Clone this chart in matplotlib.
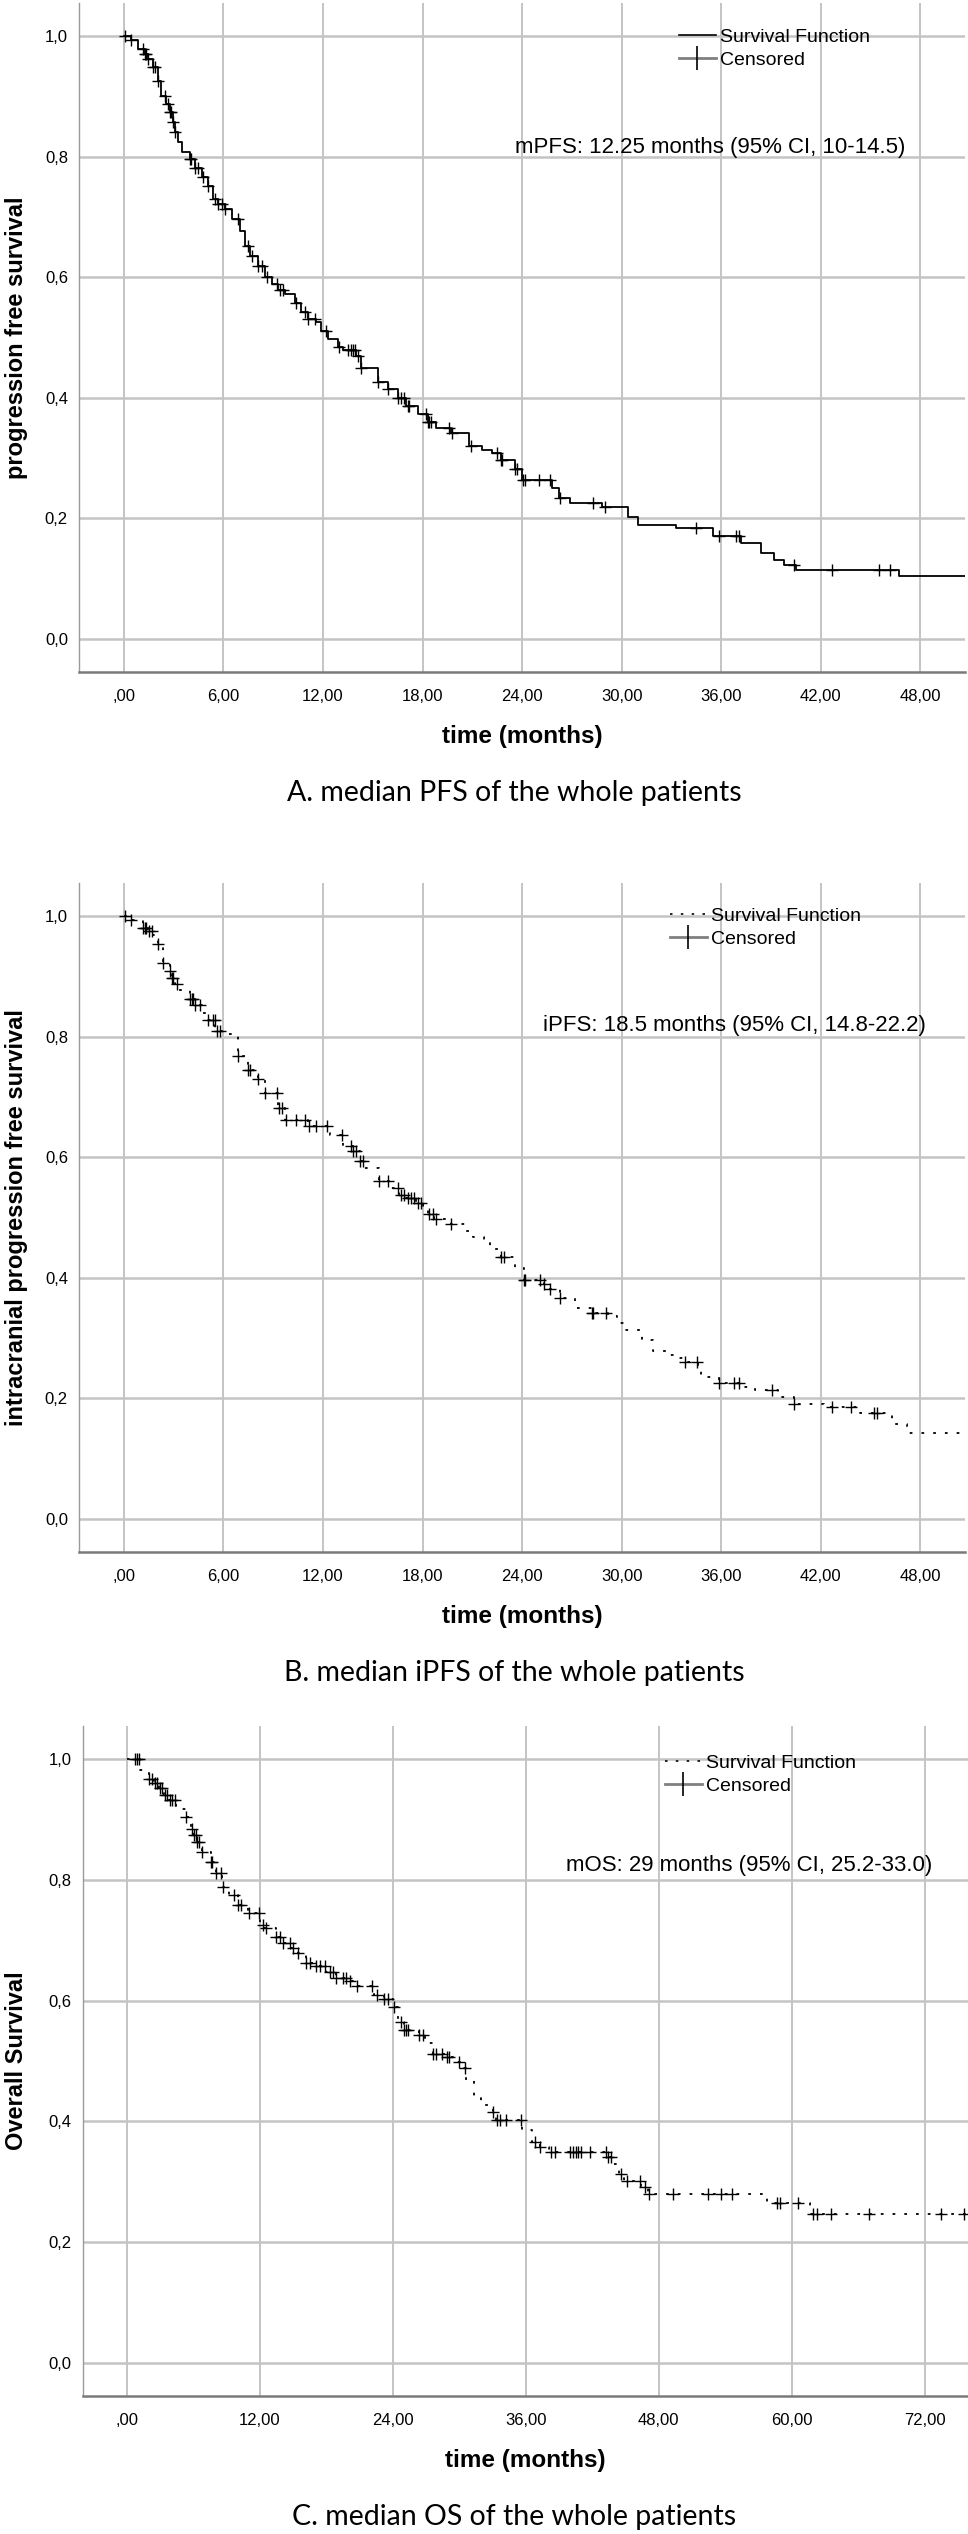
import numpy as np
import matplotlib
matplotlib.use("Agg")
import matplotlib.pyplot as plt
from matplotlib.lines import Line2D
from matplotlib.ticker import FuncFormatter

# ---- panel A : PFS (step drops: time in months, survival after the drop)
pfs_t = [0, 0.44, 0.85, 1.25, 1.45, 1.75, 2.06, 2.26, 2.56, 2.76, 2.96, 3.06, 3.27, 3.47,
         3.97, 4.27, 4.68, 5.08, 5.38, 5.69, 6.09, 6.49, 6.99, 7.30, 7.6, 8.1, 8.5, 8.9,
         9.3, 9.7, 10.3, 10.7, 11.1, 11.6, 11.9, 12.3, 12.9, 13.2, 14.0, 14.3, 15.3, 15.9,
         16.5, 17.0, 17.7, 18.3, 18.8, 19.7, 20.8, 21.6, 22.2, 22.7, 23.6, 24.0, 25.8,
         26.2, 26.9, 28.8, 30.4, 31.0, 33.3, 35.5, 37.2, 38.4, 39.2, 39.8, 40.5, 46.7, 51.0]
pfs_s = [1.0, 0.993, 0.979, 0.971, 0.962, 0.949, 0.926, 0.90, 0.888, 0.874, 0.857, 0.841,
         0.824, 0.807, 0.796, 0.782, 0.766, 0.752, 0.73, 0.722, 0.713, 0.697, 0.677, 0.652,
         0.636, 0.619, 0.60, 0.589, 0.578, 0.572, 0.558, 0.542, 0.531, 0.525, 0.511, 0.498,
         0.484, 0.479, 0.47, 0.45, 0.426, 0.414, 0.40, 0.387, 0.373, 0.359, 0.35, 0.341,
         0.32, 0.314, 0.309, 0.297, 0.281, 0.264, 0.25, 0.233, 0.225, 0.218, 0.203, 0.189,
         0.184, 0.170, 0.159, 0.142, 0.131, 0.122, 0.115, 0.104, 0.104]
pfs_cens = [0.04, 0.44, 1.15, 1.25, 1.35, 1.45, 1.75, 1.85, 2.06, 2.46, 2.66, 2.76, 2.86,
            2.96, 3.06, 3.97, 4.07, 4.27, 4.48, 4.78, 5.08, 5.48, 5.69, 5.89, 6.09, 6.9,
            7.5, 7.7, 8.1, 8.3, 8.6, 9.21, 9.4, 9.6, 10.4, 10.9, 11.1, 11.5, 12.2, 12.95,
            13.5, 13.7, 13.8, 13.9, 14.1, 14.3, 15.3, 15.9, 16.5, 16.7, 16.9, 17.1, 17.2,
            18.2, 18.3, 18.4, 18.5, 19.6, 19.75, 20.9, 22.5, 22.7, 22.8, 23.6, 23.7, 24.05,
            24.2, 25.0, 25.7, 26.3, 28.3, 29.0, 34.5, 35.9, 36.9, 37.05, 40.4, 42.7, 45.5,
            46.2]

# ---- panel B : intracranial PFS
ipfs_t = [0, 0.44, 1.15, 1.45, 1.76, 2.06, 2.36, 2.77, 2.87, 3.07, 3.27, 3.98, 4.28, 4.69,
          5.09, 5.5, 5.9, 6.9, 7.5, 8.1, 8.5, 9.3, 9.7, 11.1, 12.4, 13.2, 13.8, 14.2, 14.5,
          15.4, 16.0, 16.6, 17.0, 17.6, 18.0, 18.3, 18.7, 19.7, 20.55, 21.05, 21.7, 22.05,
          22.7, 23.55, 24.1, 25.3, 25.55, 26.3, 27.2, 28.2, 29.2, 29.7, 30.2, 31.2, 31.9,
          32.7, 33.3, 33.8, 34.6, 34.8, 35.9, 37.4, 38.05, 39.4, 40.4, 42.2, 44.4, 46.3,
          47.2, 51.0]
ipfs_s = [1.0, 0.993, 0.981, 0.975, 0.968, 0.954, 0.923, 0.909, 0.898, 0.887, 0.878, 0.862,
          0.853, 0.84, 0.828, 0.81, 0.804, 0.768, 0.745, 0.729, 0.707, 0.682, 0.662, 0.651,
          0.637, 0.618, 0.61, 0.593, 0.582, 0.56, 0.549, 0.538, 0.532, 0.524, 0.519, 0.506,
          0.497, 0.489, 0.478, 0.467, 0.458, 0.447, 0.435, 0.417, 0.397, 0.39, 0.381, 0.367,
          0.35, 0.342, 0.336, 0.325, 0.314, 0.297, 0.278, 0.272, 0.267, 0.26, 0.25, 0.236,
          0.225, 0.219, 0.213, 0.203, 0.191, 0.185, 0.176, 0.158, 0.143, 0.143]
ipfs_cens = [0.04, 0.44, 1.15, 1.25, 1.35, 1.49, 1.7, 2.06, 2.36, 2.77, 2.87, 2.97, 3.17,
             3.98, 4.08, 4.18, 4.28, 4.59, 5.09, 5.39, 5.49, 5.6, 5.8, 6.9, 7.5, 7.6, 8.1,
             8.5, 9.23, 9.33, 9.54, 9.74, 10.4, 10.9, 11.15, 11.55, 12.26, 13.17, 13.7,
             13.8, 14.0, 14.2, 14.4, 15.4, 15.9, 16.5, 16.7, 16.9, 17.1, 17.3, 17.5, 17.7,
             17.9, 18.4, 18.6, 18.8, 19.7, 22.7, 22.9, 24.1, 24.2, 25.05, 25.3, 25.7, 26.3,
             28.2, 28.3, 29.05, 33.8, 34.55, 35.9, 36.8, 37.05, 39.05, 40.4, 42.7, 43.8,
             45.2, 45.4]

# ---- panel C : OS
os_t = [0, 1.2, 1.97, 2.42, 2.88, 3.33, 3.8, 4.4, 5.3, 5.76, 6.06, 6.36, 6.8, 7.58, 8.03,
        8.6, 9.24, 10.0, 10.9, 12.0, 12.4, 13.5, 14.1, 14.85, 15.45, 16.2, 17.1, 18.0, 18.9,
        19.85, 20.75, 22.3, 23.2, 24.0, 24.5, 25.0, 26.4, 26.9, 27.6, 28.9, 29.4, 30.1,
        30.6, 31.3, 32.0, 33.0, 33.35, 35.7, 36.6, 37.3, 38.1, 43.4, 43.9, 44.4, 44.9,
        46.4, 47.0, 57.8, 61.6, 76.5]
os_s = [1.0, 0.982, 0.968, 0.96, 0.952, 0.94, 0.932, 0.918, 0.905, 0.885, 0.874, 0.863,
        0.847, 0.83, 0.811, 0.789, 0.775, 0.759, 0.745, 0.726, 0.72, 0.706, 0.695, 0.687,
        0.679, 0.662, 0.657, 0.648, 0.637, 0.632, 0.624, 0.61, 0.602, 0.59, 0.565, 0.551,
        0.543, 0.529, 0.512, 0.507, 0.499, 0.488, 0.468, 0.438, 0.427, 0.416, 0.402, 0.385,
        0.366, 0.357, 0.349, 0.341, 0.33, 0.313, 0.302, 0.291, 0.28, 0.265, 0.247, 0.247]
os_cens = [0.76, 0.91, 1.06, 1.97, 2.27, 2.58, 2.73, 3.03, 3.18, 3.48, 3.64, 3.94, 4.09,
           4.39, 5.3, 5.9, 6.06, 6.21, 6.36, 6.52, 6.82, 7.58, 7.73, 8.03, 8.48, 8.64, 9.7,
           10.0, 10.3, 11.06, 11.97, 12.27, 12.58, 13.5, 13.8, 14.1, 14.7, 15.0, 15.45,
           16.2, 16.5, 17.1, 17.4, 17.9, 18.3, 18.6, 18.9, 19.5, 19.8, 20.15, 20.75, 22.1,
           22.6, 23.2, 23.6, 24.1, 24.7, 25.0, 25.2, 25.4, 26.4, 26.7, 27.6, 27.9, 28.4,
           28.9, 29.1, 30.0, 30.5, 33.0, 33.4, 33.7, 34.2, 35.6, 36.8, 37.3, 38.3, 38.6,
           40.0, 40.3, 40.5, 40.7, 41.0, 41.8, 43.2, 43.4, 43.7, 44.6, 45.1, 46.3, 46.8,
           47.1, 49.3, 52.4, 53.6, 54.6, 58.7, 58.9, 60.6, 61.9, 62.3, 63.5, 67.0, 73.5,
           75.5]

ylabels = ["progression free survival", "intracranial progression free survival",
           "Overall Survival"]
notes = ["mPFS: 12.25 months (95% CI, 10-14.5)", "iPFS: 18.5 months (95% CI, 14.8-22.2)",
         "mOS: 29 months (95% CI, 25.2-33.0)"]
captions = ["A. median PFS of the whole patients", "B. median iPFS of the whole patients",
            "C. median OS of the whole patients"]
xticks_ab = [0, 6, 12, 18, 24, 30, 36, 42, 48]
xticks_c = [0, 12, 24, 36, 48, 60, 72]
yticks = [0.0, 0.2, 0.4, 0.6, 0.8, 1.0]

W, H = 968, 2534
FONT = "Liberation Sans"
plt.rcParams['font.family'] = [FONT, 'DejaVu Sans']

fig = plt.figure(figsize=(W / 100, H / 100), dpi=100)

# axes boxes in pixels: left, top, right, bottom
boxes = [(79, 3, 965, 672), (79, 883, 965, 1552), (82.5, 1726, 968, 2396)]
xlims = [(-2.71, 50.7), (-2.71, 50.7), (-4.0, 75.9)]
curves = [(pfs_t, pfs_s, pfs_cens), (ipfs_t, ipfs_s, ipfs_cens), (os_t, os_s, os_cens)]
styles = ['-', (0, (1.5, 5)), (0, (1.5, 5))]
legend_anchor = [(679, 28), (670, 907), (665, 1754)]
note_pos = [(515, 147), (543, 1025), (566, 1866)]


def xfmt(v, pos):
    s = "%.2f" % v
    s = s.replace('.', ',')
    if s.startswith('0,'):
        s = s[1:]
    return s


def yfmt(v, pos):
    return ("%.1f" % v).replace('.', ',')


for i in range(3):
    l, t, r, b = boxes[i]
    ax = fig.add_axes([l / W, 1 - b / H, (r - l) / W, (b - t) / H])
    tt, ss, cens = curves[i]
    tt = np.array(tt)
    ss = np.array(ss)
    cens = np.array(cens)
    ax.step(tt, ss, where='post', color='black', lw=1.3, ls=styles[i], zorder=3)
    idx = np.searchsorted(tt, cens, side='right') - 1
    ax.plot(cens, ss[idx], ls='none', marker='+', color='black', ms=9, mew=1.0, zorder=4)

    ax.set_xlim(*xlims[i])
    ax.set_ylim(-0.055, 1.055)
    ax.set_xticks(xticks_c if i == 2 else xticks_ab)
    ax.set_yticks(yticks)
    ax.xaxis.set_major_formatter(FuncFormatter(xfmt))
    ax.yaxis.set_major_formatter(FuncFormatter(yfmt))
    ax.tick_params(length=0, labelsize=12, colors='black')
    ax.tick_params(axis='x', pad=12)
    ax.tick_params(axis='y', pad=8)
    ax.grid(axis='x', color='#b4b4b4', lw=1.1)
    ax.grid(axis='y', color='#c4c4c4', lw=1.8)
    ax.set_axisbelow(True)
    for sp in ['top', 'right']:
        ax.spines[sp].set_visible(False)
    ax.spines['left'].set_color('#9a9a9a')
    ax.spines['left'].set_linewidth(1.0)
    ax.spines['bottom'].set_color('#7a7a7a')
    ax.spines['bottom'].set_linewidth(1.8)

    # legend
    h1 = Line2D([], [], color='black', lw=1.2, ls=styles[i])
    h2 = Line2D([], [], color='#808080', lw=2, marker='|', ms=17, mec='black', mew=1.2)
    lx, ly = legend_anchor[i]
    ax.legend([h1, h2], ["Survival Function", "Censored"], loc='upper left',
              bbox_to_anchor=((lx - l) / (r - l), (b - ly) / (b - t)), frameon=False,
              fontsize=14, handlelength=1.9, handletextpad=0.2, labelspacing=0.3,
              borderpad=0, borderaxespad=0)

    nx, ny = note_pos[i]
    ax.text((nx - l) / (r - l), (b - ny) / (b - t), notes[i], transform=ax.transAxes,
            ha='left', va='center', fontsize=16)

    cx = (l + r) / 2
    fig.text(cx / W, 1 - (b + 65) / H, "time (months)", ha='center', va='center',
             fontsize=17.5, fontweight='bold')
    fig.text(17 / W, 1 - ((t + b) / 2) / H, ylabels[i], rotation=90, ha='center',
             va='center', fontsize=17, fontweight='bold')
    fig.text(514 / W, 1 - (b + 121) / H, captions[i], ha='center', va='center',
             fontsize=20.5, family=['Lato', 'DejaVu Sans'])

fig.savefig("out.png", dpi=100)
